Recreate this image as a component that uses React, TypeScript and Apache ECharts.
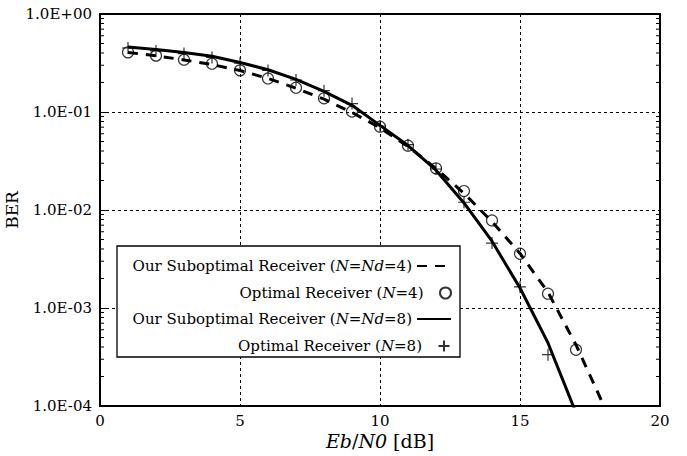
import React, { useEffect, useRef } from "react";
import * as echarts from "echarts";

const FONT = "DejaVu Serif";

// Eb/N0 values (dB)
const ebn0Circle = [1, 2, 3, 4, 5, 6, 7, 8, 9, 10, 11, 12, 13, 14, 15, 16, 17];
const berOptimalN4 = [0.406, 0.376, 0.342, 0.311, 0.266, 0.22, 0.177, 0.138, 0.101, 0.0708, 0.0453, 0.0266, 0.0156, 0.00783, 0.00358, 0.0014, 0.000375];

const ebn0Plus = [1, 2, 3, 4, 5, 6, 7, 8, 9, 10, 11, 12, 13, 14, 15, 16];
const berOptimalN8 = [0.45, 0.42, 0.395, 0.36, 0.315, 0.265, 0.212, 0.165, 0.122, 0.072, 0.0464, 0.0262, 0.012, 0.0046, 0.00164, 0.000334];

const ebn0Dashed = [1, 2, 3, 4, 5, 6, 7, 8, 9, 10, 11, 12, 13, 14, 15, 16, 17, 18];
const berSubN4 = [0.405, 0.375, 0.34, 0.305, 0.265, 0.22, 0.175, 0.135, 0.099, 0.069, 0.0445, 0.0265, 0.0148, 0.0076, 0.0036, 0.00145, 0.00042, 0.0001];

const ebn0Solid = [1, 2, 3, 4, 5, 6, 7, 8, 9, 10, 11, 12, 13, 14, 15, 16, 17];
const berSubN8 = [0.46, 0.435, 0.405, 0.37, 0.32, 0.27, 0.215, 0.162, 0.117, 0.073, 0.0455, 0.0255, 0.0118, 0.0048, 0.0016, 0.00044, 0.000085];

const xTicks = [0, 5, 10, 15, 20];
const yDecades = [-4, -3, -2, -1, 0];
const yTickLabels = ["1.0E-04", "1.0E-03", "1.0E-02", "1.0E-01", "1.0E+00"];
const minorMultipliers = [2, 3, 4, 5, 6, 7, 8, 9];

const seriesNames = [
  "Our Suboptimal Receiver (N=Nd=4)",
  "Optimal Receiver (N=4)",
  "Our Suboptimal Receiver (N=Nd=8)",
  "Optimal Receiver (N=8)",
];
const legendRich = [
  "{r|Our Suboptimal Receiver (}{i|N}{r|=}{i|Nd}{r|=4)}",
  "{r|Optimal Receiver (}{i|N}{r|=4)}",
  "{r|Our Suboptimal Receiver (}{i|N}{r|=}{i|Nd}{r|=8)}",
  "{r|Optimal Receiver (}{i|N}{r|=8)}",
];

export default function App() {
  const ref = useRef<HTMLDivElement>(null);
  useEffect(() => {
    if (!ref.current) return;
    const chart = echarts.init(ref.current, undefined, { renderer: "svg" });

    const minorTicks: number[][] = [];
    for (let i = 0; i < yDecades.length - 1; i++) {
      for (const m of minorMultipliers) {
        minorTicks.push([0, m * Math.pow(10, yDecades[i])]);
      }
    }
    const yLabelData = yDecades.map((d, i) => [0, Math.pow(10, d), i]);

    const LS = 15;
    const rowCenters = [266, 293, 319, 346];
    const legends = seriesNames.map((name, i) => {
      const lg: any = {
        data: [name],
        orient: "horizontal",
        align: "right",
        right: 235,
        top: rowCenters[i] - 9,
        padding: 0,
        itemWidth: 34,
        itemHeight: 11,
        itemGap: 0,
        selectedMode: false,
        formatter: () => legendRich[i],
        textStyle: {
          fontFamily: FONT,
          fontSize: LS,
          color: "#000",
          lineHeight: 18,
          rich: {
            r: { fontFamily: FONT, fontSize: LS, color: "#000" },
            i: { fontFamily: FONT, fontSize: LS, fontStyle: "italic", color: "#000" },
          },
        },
      };
      if (i % 2 === 0) lg.itemStyle = { opacity: 0 };
      return lg;
    });

    const option: any = {
      animation: false,
      backgroundColor: "#fff",
      textStyle: { fontFamily: FONT },
      grid: {
        left: 100,
        right: 27,
        top: 14,
        bottom: 50,
        outerBoundsMode: "none",
        containLabel: false,
        show: true,
        borderColor: "#000",
        borderWidth: 2,
        backgroundColor: "transparent",
      },
      legend: legends,
      graphic: [
        {
          type: "rect",
          z: 3,
          shape: { x: 117, y: 246, width: 343, height: 111 },
          style: { fill: "#fff", stroke: "#000", lineWidth: 1.3 },
        },
      ],
      xAxis: {
        type: "value",
        min: xTicks[0],
        max: xTicks[xTicks.length - 1],
        interval: 5,
        name: "{i|Eb}{r|/}{i|N0}{r| [dB]}",
        nameLocation: "middle",
        nameGap: 24,
        nameMoveOverlap: false,
        nameTextStyle: {
          fontFamily: FONT,
          fontSize: 19,
          color: "#000",
          lineHeight: 21,
          rich: {
            r: { fontFamily: FONT, fontSize: 19, color: "#000", lineHeight: 21 },
            i: { fontFamily: FONT, fontSize: 19, fontStyle: "italic", color: "#000", lineHeight: 21 },
          },
        },
        axisLine: { show: true, lineStyle: { color: "#000", width: 2 } },
        axisTick: { show: false },
        axisLabel: { fontFamily: FONT, fontSize: 15, lineHeight: 15, color: "#000", margin: 7 },
        splitLine: { show: true, lineStyle: { color: "#000", width: 1, type: [3, 3] } },
      },
      yAxis: {
        type: "log",
        logBase: 10,
        min: 1e-4,
        max: 1,
        name: "BER",
        nameLocation: "middle",
        nameGap: 80,
        nameMoveOverlap: false,
        nameTextStyle: { fontFamily: FONT, fontSize: 17, color: "#000" },
        axisLine: { show: true, lineStyle: { color: "#000", width: 2 } },
        axisTick: { show: true, inside: true, length: 6, lineStyle: { color: "#000" } },
        axisLabel: { show: false },
        splitLine: { show: true, lineStyle: { color: "#000", width: 1, type: [3, 3] } },
      },
      series: [
        {
          name: seriesNames[0],
          type: "line",
          data: ebn0Dashed.map((x, i) => [x, berSubN4[i]]),
          symbol: "none",
          showSymbol: false,
          lineStyle: { color: "#000", width: 3, type: [10, 8] },
          itemStyle: { color: "#000" },
          z: 2,
        },
        {
          name: seriesNames[1],
          type: "scatter",
          data: ebn0Circle.map((x, i) => [x, berOptimalN4[i]]),
          symbol: "circle",
          symbolSize: 11,
          itemStyle: { color: "rgba(0,0,0,0)", borderColor: "#000", borderWidth: 1.2 },
          z: 3,
        },
        {
          name: seriesNames[2],
          type: "line",
          data: ebn0Solid.map((x, i) => [x, berSubN8[i]]),
          symbol: "none",
          showSymbol: false,
          lineStyle: { color: "#000", width: 3, type: "solid" },
          itemStyle: { color: "#000" },
          z: 2,
        },
        {
          name: seriesNames[3],
          type: "scatter",
          data: ebn0Plus.map((x, i) => [x, berOptimalN8[i]]),
          symbol: "path://M5,0L5,10M0,5L10,5",
          symbolSize: 12,
          itemStyle: { color: "none", borderColor: "#000", borderWidth: 1.2 },
          z: 3,
        },
        {
          name: "minor-ticks",
          type: "custom",
          silent: true,
          z: 5,
          data: minorTicks,
          renderItem: (params: any, api: any) => {
            const v = api.value(1);
            const l = api.coord([xTicks[0], v]);
            const r = api.coord([xTicks[xTicks.length - 1], v]);
            return {
              type: "group",
              children: [
                {
                  type: "line",
                  shape: { x1: l[0], y1: l[1], x2: l[0] + 4, y2: l[1] },
                  style: { stroke: "#000", lineWidth: 1 },
                },
                {
                  type: "line",
                  shape: { x1: r[0] - 4, y1: r[1], x2: r[0], y2: r[1] },
                  style: { stroke: "#000", lineWidth: 1 },
                },
              ],
            };
          },
        },
        {
          name: "y-labels",
          type: "custom",
          silent: true,
          clip: false,
          z: 5,
          data: yLabelData,
          renderItem: (params: any, api: any) => {
            const v = api.value(1);
            const idx = api.value(2);
            const p = api.coord([xTicks[0], v]);
            return {
              type: "text",
              x: p[0] - 8,
              y: p[1],
              style: {
                text: yTickLabels[idx],
                fill: "#000",
                fontFamily: FONT,
                fontSize: 15,
                align: "right",
                verticalAlign: "middle",
                textAlign: "right",
                textVerticalAlign: "middle",
              },
            };
          },
        },
      ],
    };
    chart.setOption(option);
    return () => chart.dispose();
  }, []);
  return <div ref={ref} style={{ width: 687, height: 456, position: "absolute", left: 0, top: 0 }} />;
}
